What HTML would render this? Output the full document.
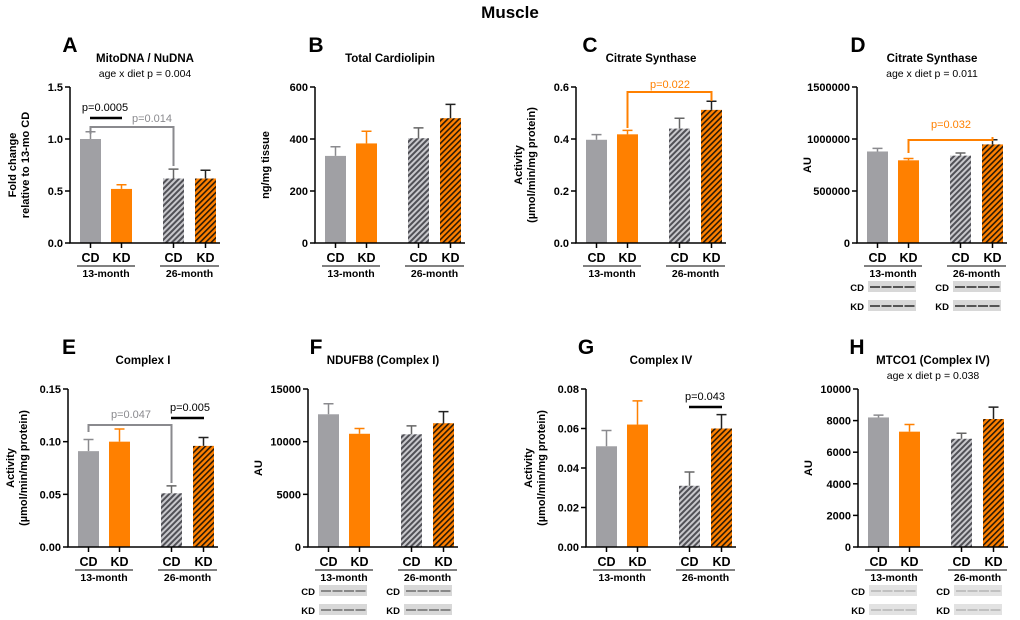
<!DOCTYPE html>
<html><head><meta charset="utf-8"><style>
body{margin:0;background:#fff;}
svg{display:block;font-family:"Liberation Sans",Arial,sans-serif;}
</style></head><body>
<svg id="fig" width="1020" height="620" viewBox="0 0 1020 620">
<defs>
<pattern id="hatchGray" patternUnits="userSpaceOnUse" width="4" height="4" patternTransform="rotate(45)">
<rect width="4" height="4" fill="#c8c8cc"/><rect width="2" height="4" fill="#505056"/></pattern>
<pattern id="hatchOrange" patternUnits="userSpaceOnUse" width="4" height="4" patternTransform="rotate(45)">
<rect width="4" height="4" fill="#ff8000"/><rect width="1.6" height="4" fill="#2a1a08"/></pattern>
</defs>
<text x="510" y="18" text-anchor="middle" font-size="17" font-weight="bold">Muscle</text>
</svg>
<script>
const groupLabels = ["CD","KD","CD","KD"];
const ageLabels = ["13-month","26-month"];
// Panel data
const aMeans=[1.0,0.52,0.62,0.62], aErr=[0.07,0.04,0.09,0.08], aTicks=[0,0.5,1.0,1.5], aTickLabels=["0.0","0.5","1.0","1.5"];
const bMeans=[335,383,403,480], bErr=[35,47,40,53], bTicks=[0,200,400,600], bTickLabels=["0","200","400","600"];
const cMeans=[0.397,0.418,0.44,0.512], cErr=[0.02,0.015,0.04,0.033], cTicks=[0,0.2,0.4,0.6], cTickLabels=["0.0","0.2","0.4","0.6"];
const dMeans=[880000,795000,840000,948000], dErr=[30000,18000,25000,45000], dTicks=[0,500000,1000000,1500000], dTickLabels=["0","500000","1000000","1500000"];
const eMeans=[0.091,0.1,0.051,0.096], eErr=[0.011,0.012,0.007,0.008], eTicks=[0,0.05,0.10,0.15], eTickLabels=["0.00","0.05","0.10","0.15"];
const fMeans=[12600,10750,10700,11750], fErr=[1000,500,800,1100], fTicks=[0,5000,10000,15000], fTickLabels=["0","5000","10000","15000"];
const gMeans=[0.051,0.062,0.031,0.060], gErr=[0.008,0.012,0.007,0.007], gTicks=[0,0.02,0.04,0.06,0.08], gTickLabels=["0.00","0.02","0.04","0.06","0.08"];
const hMeans=[8200,7300,6850,8100], hErr=[150,450,350,750], hTicks=[0,2000,4000,6000,8000,10000], hTickLabels=["0","2000","4000","6000","8000","10000"];

const NS="http://www.w3.org/2000/svg";
const svg=document.getElementById('fig');
function mk(tag,attrs,parent,txt){const e=document.createElementNS(NS,tag);for(const k in attrs)e.setAttribute(k,attrs[k]);if(txt!==undefined)e.textContent=txt;(parent||svg).appendChild(e);return e;}
const fills=["#a0a0a4","#ff8000","url(#hatchGray)","url(#hatchOrange)"];
const offs=[10,41,93,125];

function panel(p){
  const g=mk('g',{});
  
  
  const ymax=p.ticks[p.ticks.length-1];
  const Y=v=>p.y0-(v/ymax)*(p.y0-p.y1);
  const X=i=>p.ax+offs[i];
  let t=mk('text',{x:p.lx,y:p.y1-35,'font-size':21,'font-weight':'bold','text-anchor':'middle'},g,p.letter);
  
  t=mk('text',{x:p.ax+75,y:p.y1-25,'font-size':11.5,'font-weight':'bold','text-anchor':'middle'},g,p.title);
  
  if(p.sub){t=mk('text',{x:p.ax+75,y:p.y1-10,'font-size':10.5,'text-anchor':'middle'},g,p.sub);
    }
  p.means.forEach((m,i)=>{
    const b=mk('rect',{x:X(i),y:Y(m),width:21,height:p.y0-Y(m),fill:fills[i]},g);
    
    
    const cx=X(i)+10.5, top=Y(m+p.err[i]);
    const e=mk('path',{d:`M${cx} ${Y(m)}V${top}M${cx-5} ${top}H${cx+5}`,stroke:i%2?'#ff8000':'#8a8a8e','stroke-width':1.5,fill:'none'},g);
    if(i>=2) e.setAttribute('stroke',i==3?'#222':'#666');
    
  });
  const ax=mk('path',{d:`M${p.ax} ${p.y1}V${p.y0}H${p.ax+150}`,stroke:'#000','stroke-width':1.5,fill:'none'},g);
  
  p.ticks.forEach((v,k)=>{
    mk('line',{x1:p.ax-5,x2:p.ax,y1:Y(v),y2:Y(v),stroke:'#000','stroke-width':1.5},g);
    const tl=mk('text',{x:p.ax-7,y:Y(v)+4,'font-size':11,'font-weight':'bold','text-anchor':'end'},g,p.tickLabels[k]);
    
  });
  for(let i=0;i<4;i++){
    mk('line',{x1:X(i)+10.5,x2:X(i)+10.5,y1:p.y0,y2:p.y0+5,stroke:'#000','stroke-width':1.5},g);
    const xl=mk('text',{x:X(i)+10.5,y:p.y0+19,'font-size':12.5,'font-weight':'bold','text-anchor':'middle'},g,groupLabels[i]);
    
  }
  [0,2].forEach((i,k)=>{
    mk('line',{x1:X(i)-3,x2:X(i+1)+24,y1:p.y0+23,y2:p.y0+23,stroke:'#000','stroke-width':1},g);
    const al=mk('text',{x:(X(i)+X(i+1)+21)/2,y:p.y0+34,'font-size':10.5,'font-weight':'bold','text-anchor':'middle'},g,ageLabels[k]);
    
  });
  const yl=p.ylab;
  const yt=mk('text',{transform:`translate(${p.ax-(yl.length>1?52:46)},${(p.y0+p.y1)/2}) rotate(-90)`,'font-size':11,'font-weight':'bold','text-anchor':'middle'},g);
  
  yl.forEach((s,k)=>mk('tspan',{x:0,dy:k?13:(yl.length>1?-2:0)},yt,s));
  (p.ann||[]).forEach(a=>{
    const col=a.color;
    if(a.type==='line'){
      mk('line',{x1:X(a.i)+10,x2:X(a.j)+11,y1:a.y,y2:a.y,stroke:col,'stroke-width':2.5},g);
    } else {
      mk('path',{d:`M${X(a.i)+10.5} ${a.yl}V${a.y}H${X(a.j)+10.5}V${a.yr}`,stroke:col,'stroke-width':2,fill:'none'},g);
    }
    const at=mk('text',{x:a.tx,y:a.ty,'font-size':11,fill:col,'text-anchor':'middle'},g,a.text);
    
  });
  if(p.blots){
    [0,1].forEach(r=>{
      const by=p.y0+(r?63:44);
      [0,1].forEach(c=>{
        const bx=p.ax+(c?96:11);
        const lb=mk('text',{x:bx-4,y:by+4,'font-size':9.5,'font-weight':'bold','text-anchor':'end'},g,r?'KD':'CD');
        
        const br=mk('rect',{x:bx,y:by-6,width:48,height:11,fill:p.blots==='light'?'#e2e2e2':'#d8d8d8'},g);
        
        for(let k=0;k<4;k++) mk('rect',{x:bx+2+k*11.5,y:by-1,width:10,height:2,fill:p.blots==='light'?'#c0c0c0':(p.blots==='dark'?'#555':'#888')},g);
      });
    });
  }
}
const top0=243, top1=87, bot0=547, bot1=389;
panel({letter:'A',lx:70,title:'MitoDNA / NuDNA',sub:'age x diet p = 0.004',ax:70,y0:top0,y1:top1,means:aMeans,err:aErr,ticks:aTicks,tickLabels:aTickLabels,ylab:['Fold change','relative to 13-mo CD'],
  ann:[{type:'line',i:0,j:1,y:118,color:'#000',text:'p=0.0005',tx:105,ty:111},
       {type:'bracket',i:0,j:2,y:127,yl:134,yr:166,color:'#8a8a8e',text:'p=0.014',tx:152,ty:122}]});
panel({letter:'B',lx:316,title:'Total Cardiolipin',ax:315,y0:top0,y1:top1,means:bMeans,err:bErr,ticks:bTicks,tickLabels:bTickLabels,ylab:['ng/mg tissue']});
panel({letter:'C',lx:590,title:'Citrate Synthase',ax:576,y0:top0,y1:top1,means:cMeans,err:cErr,ticks:cTicks,tickLabels:cTickLabels,ylab:['Activity','(µmol/min/mg protein)'],
  ann:[{type:'bracket',i:1,j:3,y:92,yl:128,yr:101,color:'#ff8000',text:'p=0.022',tx:670,ty:88}]});
panel({letter:'D',lx:858,title:'Citrate Synthase',sub:'age x diet p = 0.011',ax:857,y0:top0,y1:top1,means:dMeans,err:dErr,ticks:dTicks,tickLabels:dTickLabels,ylab:['AU'],
  ann:[{type:'bracket',i:1,j:3,y:140,yl:153,yr:137,color:'#ff8000',text:'p=0.032',tx:951,ty:128}],blots:'dark'});
panel({letter:'E',lx:69,title:'Complex I',ax:68,y0:bot0,y1:bot1,means:eMeans,err:eErr,ticks:eTicks,tickLabels:eTickLabels,ylab:['Activity','(µmol/min/mg protein)'],
  ann:[{type:'bracket',i:0,j:2,y:425,yl:432,yr:483,color:'#8a8a8e',text:'p=0.047',tx:131,ty:418},
       {type:'line',i:2,j:3,y:418,color:'#000',text:'p=0.005',tx:190,ty:411}]});
panel({letter:'F',lx:316,title:'NDUFB8 (Complex I)',ax:308,y0:bot0,y1:bot1,means:fMeans,err:fErr,ticks:fTicks,tickLabels:fTickLabels,ylab:['AU'],blots:'mid'});
panel({letter:'G',lx:586,title:'Complex IV',ax:586,y0:bot0,y1:bot1,means:gMeans,err:gErr,ticks:gTicks,tickLabels:gTickLabels,ylab:['Activity','(µmol/min/mg protein)'],
  ann:[{type:'line',i:2,j:3,y:407,color:'#000',text:'p=0.043',tx:705,ty:400}]});
panel({letter:'H',lx:857,title:'MTCO1 (Complex IV)',sub:'age x diet p = 0.038',ax:858,y0:bot0,y1:bot1,means:hMeans,err:hErr,ticks:hTicks,tickLabels:hTickLabels,ylab:['AU'],blots:'light'});
</script>
</body></html>
